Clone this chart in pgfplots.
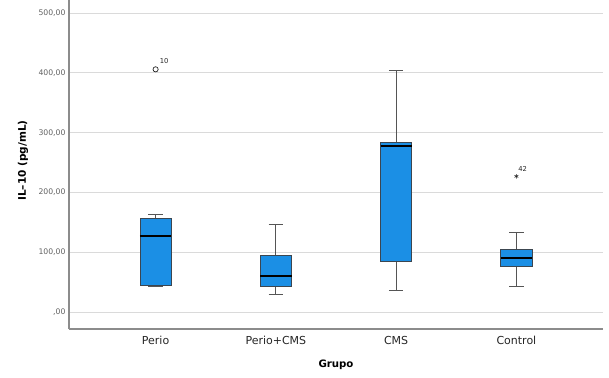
\documentclass[border=0pt]{standalone}
\usepackage{pgfplots}
\pgfplotsset{compat=1.18}
\usepgfplotslibrary{statistics}
\usepackage{fontspec}
\setmainfont{DejaVu Sans}

\definecolor{boxblue}{HTML}{1B8FE5}
\definecolor{boxedge}{HTML}{3C4650}
\definecolor{whiskgray}{HTML}{555555}
\definecolor{gridgray}{HTML}{DADADA}
\definecolor{axisgray}{HTML}{8C8C8C}

\begin{document}
\begin{tikzpicture}
\begin{axis}[
  scale only axis,
  width=534bp, height=329bp,
  xmin=0.28, xmax=4.72,
  ymin=-28.4, ymax=522,
  clip=false,
  axis lines*=left,
  axis line style={draw=axisgray, line width=1.1bp},
  major tick length=0pt,
  xtick={1,2,3,4},
  xticklabels={Perio,Perio+CMS,CMS,Control},
  ytick={0,100,200,300,400,500},
  yticklabels={{,00},{100,00},{200,00},{300,00},{400,00},{500,00}},
  ymajorgrids,
  grid style={draw=gridgray, line width=1bp},
  xticklabel style={font=\fontsize{11bp}{13bp}\selectfont, text=black!85, yshift=-4bp},
  yticklabel style={font=\fontsize{7.7bp}{9bp}\selectfont, text=black!62},
  xlabel={Grupo},
  ylabel={IL–10 (pg/mL)},
  xlabel style={font=\bfseries\fontsize{10.2bp}{12bp}\selectfont,
    at={([yshift=-36bp]axis description cs:0.5,0)}, anchor=center},
  ylabel style={font=\bfseries\fontsize{10.5bp}{12bp}\selectfont,
    at={([xshift=-46bp]axis description cs:0,0.512)}, anchor=center},
  boxplot/draw direction=y,
  boxplot/box extend=0.26,
  boxplot/whisker extend=0.12,
  boxplot/every box/.style={draw=boxedge, fill=boxblue, line width=0.9bp},
  boxplot/every whisker/.style={draw=whiskgray, line width=0.9bp},
  boxplot/every median/.style={draw=black, line width=1.8bp},
]
\coordinate (sw) at (rel axis cs:0,0);
\coordinate (ne) at (rel axis cs:1,1);

% Perio
\addplot[boxplot prepared={draw position=1,
  lower whisker=42, lower quartile=44.6, median=127,
  upper quartile=156, upper whisker=163}] coordinates {};
% Perio+CMS
\addplot[boxplot prepared={draw position=2,
  lower whisker=29.6, lower quartile=43.5, median=60,
  upper quartile=94, upper whisker=146.6}] coordinates {};
% CMS
\addplot[boxplot prepared={draw position=3,
  lower whisker=36.8, lower quartile=84.7, median=278,
  upper quartile=283.8, upper whisker=404.7}] coordinates {};
% Control
\addplot[boxplot prepared={draw position=4,
  lower whisker=43.5, lower quartile=77, median=90.8,
  upper quartile=105, upper whisker=132.6}] coordinates {};

% outliers (case numbers beside them)
\addplot[only marks, mark=o, mark size=2.6bp,
  mark options={draw=black!85, line width=0.7bp}] coordinates {(1,406)};
\addplot[only marks, mark=asterisk, mark size=2.2bp,
  mark options={draw=black!85, line width=0.6bp}] coordinates {(4,227)};

\node[anchor=west, inner sep=0pt, text=black!85,
  font=\fontsize{6.8bp}{8bp}\selectfont] at (axis cs:1.033,420) {10};
\node[anchor=west, inner sep=0pt, text=black!85,
  font=\fontsize{6.8bp}{8bp}\selectfont] at (axis cs:4.015,240) {42};
\end{axis}
\pgfresetboundingbox
\path ([shift={(-69bp,-49bp)}]sw) rectangle ([shift={(6bp,0bp)}]ne);
\end{tikzpicture}
\end{document}
